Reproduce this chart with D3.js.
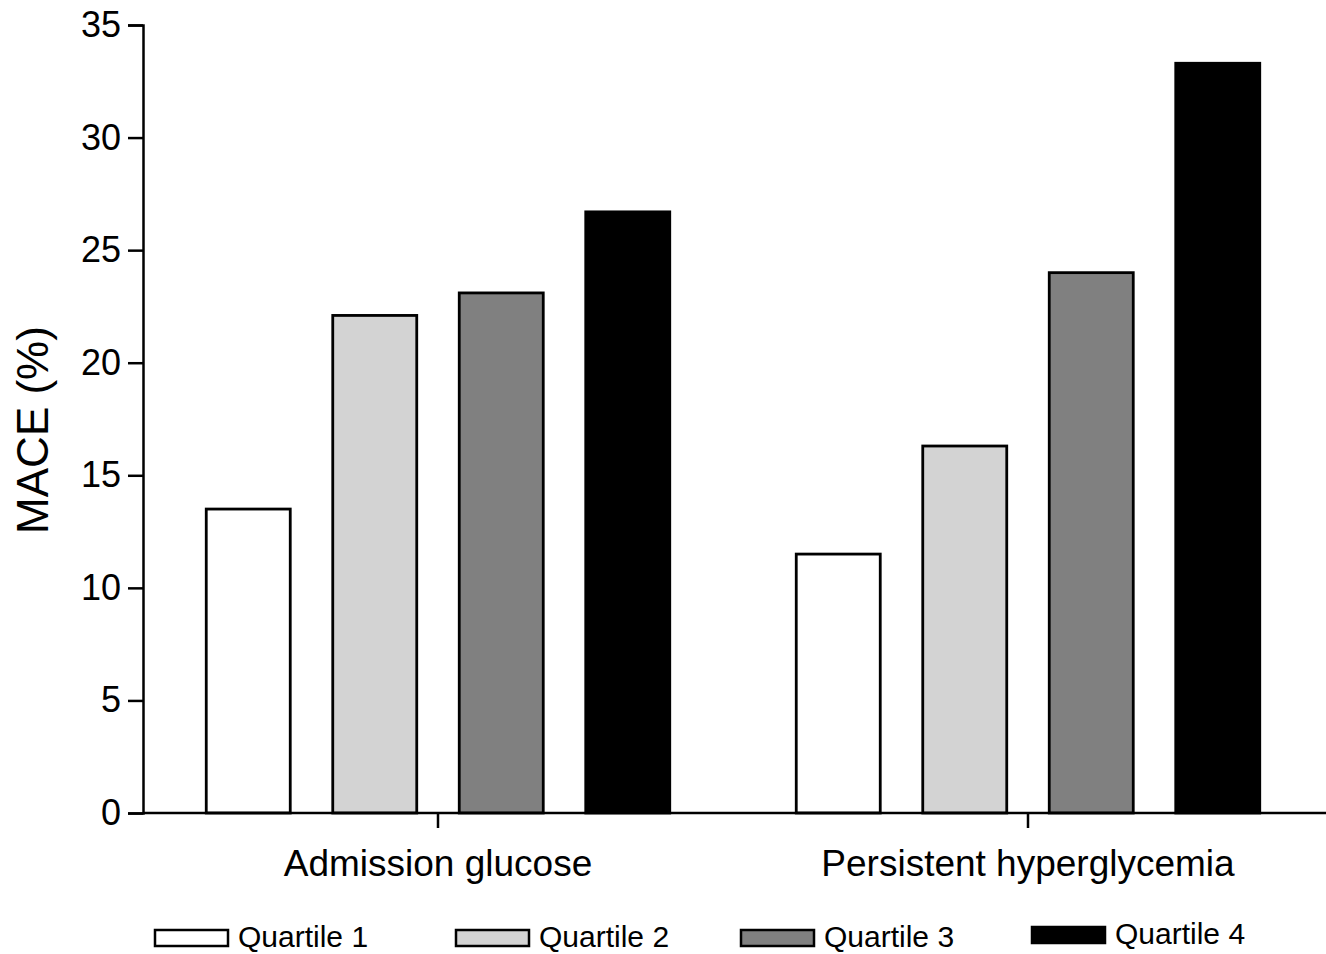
<!DOCTYPE html>
<html>
<head>
<meta charset="utf-8">
<script src="https://cdn.jsdelivr.net/npm/d3@7"></script>
<style>
  body { margin: 0; background: #fff; }
  text { font-family: "Liberation Sans", Arial, sans-serif; fill: #000; }
</style>
</head>
<body>
<div id="chart"></div>
<script>
// donnees
var categories = ["Admission glucose", "Persistent hyperglycemia"];
var quartiles = ["Quartile 1", "Quartile 2", "Quartile 3", "Quartile 4"];
var valeursAdmission = [13.5, 22.1, 23.1, 26.7];
var valeursPersistante = [11.5, 16.3, 24.0, 33.3];
var ticksY = [0, 5, 10, 15, 20, 25, 30, 35];

var couleurs = ["#ffffff", "#d3d3d3", "#808080", "#000000"];

var largeur = 1326, hauteur = 954;
var svg = d3.select("#chart").append("svg")
  .attr("width", largeur).attr("height", hauteur);

var y = d3.scaleLinear().domain([0, 35]).range([813, 25]);
var x0 = d3.scaleBand().domain(categories).range([143, 1323]).padding(0);
var x1 = d3.scaleBand().domain(quartiles).range([42, 548])
  .paddingInner(0.336).paddingOuter(0.168);

var series = [valeursAdmission, valeursPersistante];
var lignes = [];
categories.forEach(function(c, i) {
  quartiles.forEach(function(q, j) {
    lignes.push({cat: c, q: q, v: series[i][j], j: j});
  });
});

// barres
svg.append("g").selectAll("rect")
  .data(lignes).enter().append("rect")
  .attr("x", function(d) { return x0(d.cat) + x1(d.q); })
  .attr("y", function(d) { return y(d.v); })
  .attr("width", x1.bandwidth())
  .attr("height", function(d) { return y(0) - y(d.v); })
  .attr("fill", function(d) { return couleurs[d.j]; })
  .attr("stroke", "#000")
  .attr("stroke-width", 2.8);

// axe y
var axeY = svg.append("g")
  .attr("transform", "translate(143,0)")
  .call(d3.axisLeft(y).tickValues(ticksY).tickSize(15).tickPadding(7));
axeY.select(".domain").attr("stroke-width", 2.5);
axeY.selectAll(".tick line").attr("stroke-width", 2.5);
axeY.selectAll(".tick text").attr("font-size", 36).style("font-family", "Liberation Sans, Arial, sans-serif");

// axe x
var axeX = svg.append("g")
  .attr("transform", "translate(0,813)")
  .call(d3.axisBottom(x0).tickSize(15).tickSizeOuter(0).tickPadding(22));
axeX.select(".domain").attr("stroke-width", 2.5).attr("d", "M143,0H1326");
axeX.selectAll(".tick line").attr("stroke-width", 2.5);
axeX.selectAll(".tick text").attr("font-size", 37).style("font-family", "Liberation Sans, Arial, sans-serif");

// titre axe y
svg.append("text")
  .attr("transform", "translate(48,430) rotate(-90)")
  .attr("text-anchor", "middle")
  .attr("font-size", 44)
  .text("MACE (%)");

// legende
var legendeX = [155, 456, 741, 1032];
var legendeY = [930, 930, 930, 927];
var leg = svg.append("g").selectAll("g")
  .data(quartiles).enter().append("g")
  .attr("transform", function(d, i) { return "translate(" + legendeX[i] + "," + legendeY[i] + ")"; });
leg.append("rect")
  .attr("width", 73).attr("height", 16)
  .attr("fill", function(d, i) { return couleurs[i]; })
  .attr("stroke", "#000").attr("stroke-width", 2.5);
leg.append("text")
  .attr("x", 83).attr("y", 17)
  .attr("font-size", 30)
  .text(function(d) { return d; });
</script>
</body>
</html>
